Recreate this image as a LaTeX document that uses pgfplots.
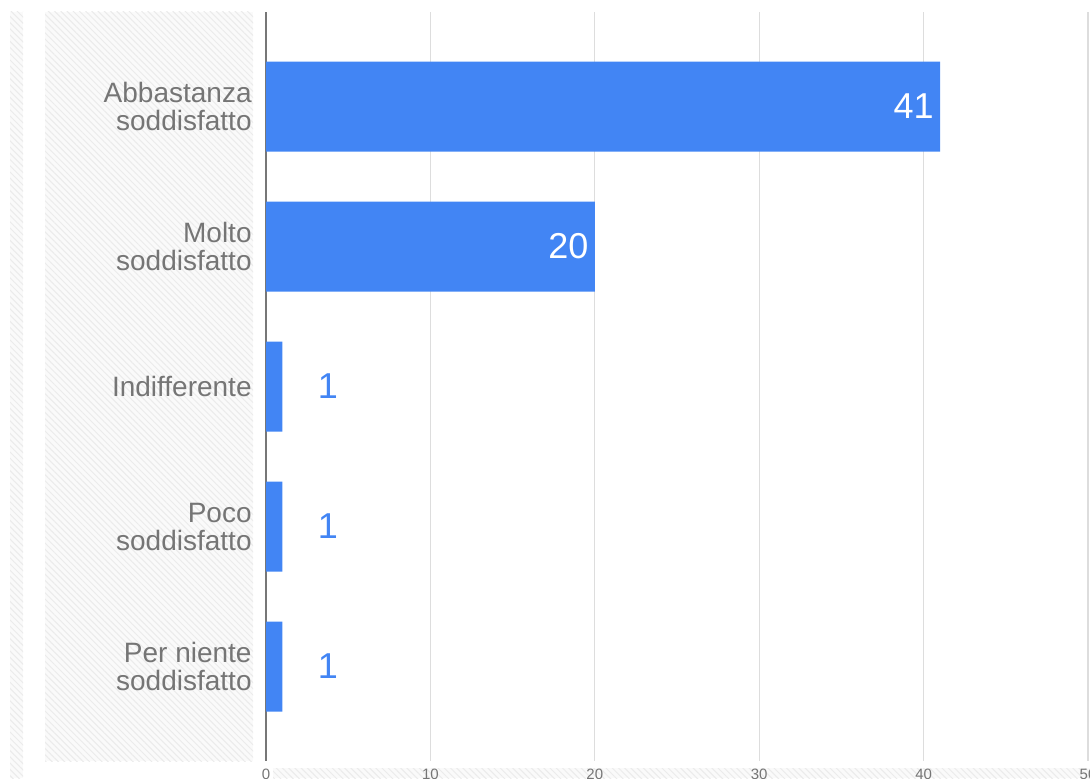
\documentclass[border=0pt]{standalone}
\usepackage{fontspec}
\setmainfont{Liberation Sans}
\usepackage{pgfplots}
\pgfplotsset{compat=1.18}
\usetikzlibrary{patterns.meta}
\definecolor{barblue}{HTML}{4285F4}
\definecolor{labgray}{HTML}{757575}
\definecolor{gridgray}{HTML}{DDDDDD}
\definecolor{axgray}{HTML}{777777}
\begin{document}
\begin{tikzpicture}[x=1pt,y=1pt]
\useasboundingbox (0,0) rectangle (545,389);
\clip (0,0) rectangle (545,389);
\tikzset{hatch/.style={fill=black!2, draw=none,
  postaction={pattern={Lines[angle=-45,distance=2.2pt,line width=0.5pt]}, pattern color=black!8}}}
% cut-off panels of the screenshot
\path[hatch] (5,0) rectangle (11.5,383);
\path[hatch] (22.5,8.5) rectangle (126.5,383);
\path[hatch] (136.5,0) rectangle (545,5);
\begin{axis}[at={(133pt,8.5pt)}, anchor=south west,
  width=411pt, height=374.5pt, scale only axis,
  xmin=0, xmax=50, ymin=-0.675, ymax=4.675, y dir=reverse,
  axis line style={draw=none}, tick style={draw=none},
  xtick={10,20,30,40,50}, xmajorgrids, grid style={gridgray, line width=0.6pt},
  extra x ticks={0}, extra x tick labels={0},
  extra x tick style={grid style={axgray, line width=1pt}},
  ytick={0,1,2,3,4},
  yticklabels={{Abbastanza\\soddisfatto},{Molto\\soddisfatto},Indifferente,{Poco\\soddisfatto},{Per niente\\soddisfatto}},
  yticklabel style={align=right, font=\fontsize{14}{14}\selectfont, text=labgray, inner sep=0pt, xshift=-7pt},
  xticklabel style={font=\fontsize{7.5}{8}\selectfont, text=labgray, anchor=north, inner sep=0pt, yshift=-4pt},
  /pgf/number format/assume math mode=true,
  clip=false]
\addplot[xbar, bar width=45pt, bar shift=0pt, fill=barblue, draw=none,
  point meta=x, nodes near coords,
  every node near coord/.append style={anchor=east, text=white, inner sep=0pt, xshift=-3pt,
    font=\fontsize{18}{18}\selectfont}]
  coordinates {(41,0) (20,1)};
\addplot[xbar, bar width=45pt, bar shift=0pt, fill=barblue, draw=none,
  point meta=x, nodes near coords,
  every node near coord/.append style={anchor=west, text=barblue, inner sep=0pt, xshift=17.5pt,
    font=\fontsize{18}{18}\selectfont}]
  coordinates {(1,2) (1,3) (1,4)};
\end{axis}
\end{tikzpicture}
\end{document}
